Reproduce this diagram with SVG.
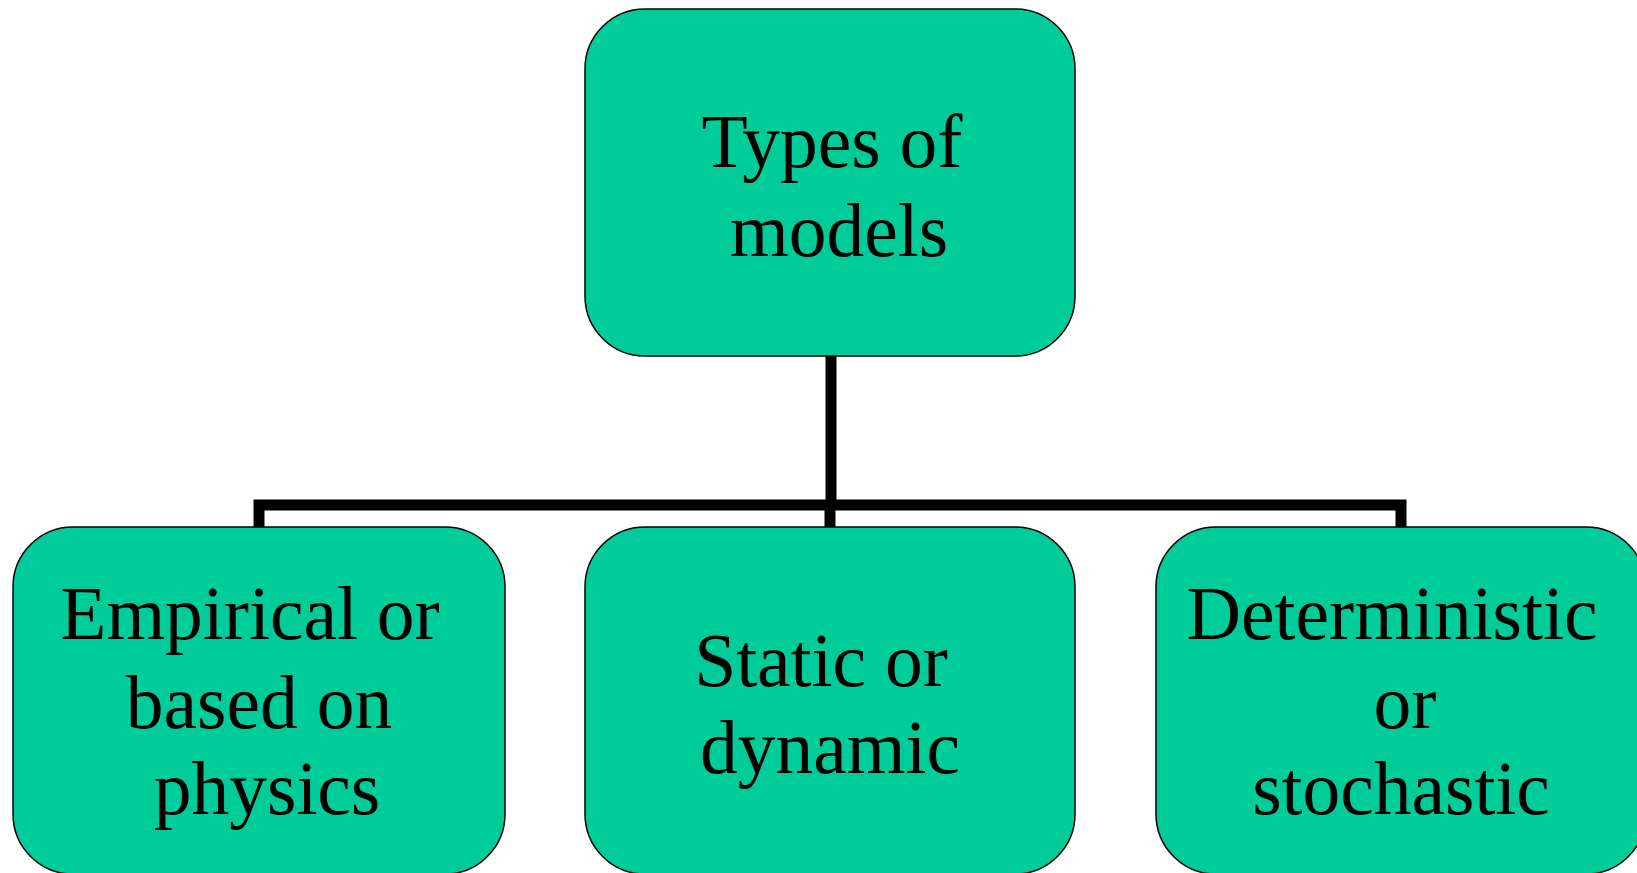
<svg xmlns="http://www.w3.org/2000/svg" width="1637" height="873" viewBox="0 0 1637 873">
<style>
.box{fill:#00CC99;stroke:#000;stroke-width:1.5}
.t{font-family:"Liberation Serif","Times New Roman",serif;font-size:75.5px;fill:#000;text-anchor:middle}
.c{fill:none;stroke:#000;stroke-width:11;stroke-linejoin:miter}
</style>
<rect width="1637" height="873" fill="#fff"/>
<g id="connectors">
<path class="c" d="M831 356 V505"/>
<path class="c" d="M259 527 V505 H1401 V527"/>
<path class="c" d="M830 505 V527"/>
</g>
<g id="top">
<rect class="box" x="585" y="9" width="490" height="347" rx="60" ry="60"/>
<text class="t" x="832" y="167">Types of</text>
<text class="t" x="839" y="256">models</text>
</g>
<g id="left">
<rect class="box" x="13" y="527" width="492" height="347" rx="60" ry="60"/>
<text class="t" x="250" y="639">Empirical or</text>
<text class="t" x="259" y="728">based on</text>
<text class="t" x="267" y="814">physics</text>
</g>
<g id="middle">
<rect class="box" x="585" y="527" width="490" height="347" rx="60" ry="60"/>
<text class="t" x="821" y="686">Static or</text>
<text class="t" x="830" y="773">dynamic</text>
</g>
<g id="right">
<rect class="box" x="1156" y="527" width="490" height="347" rx="60" ry="60"/>
<text class="t" x="1392" y="639">Deterministic</text>
<text class="t" x="1405" y="728">or</text>
<text class="t" x="1401" y="814">stochastic</text>
</g>
</svg>
